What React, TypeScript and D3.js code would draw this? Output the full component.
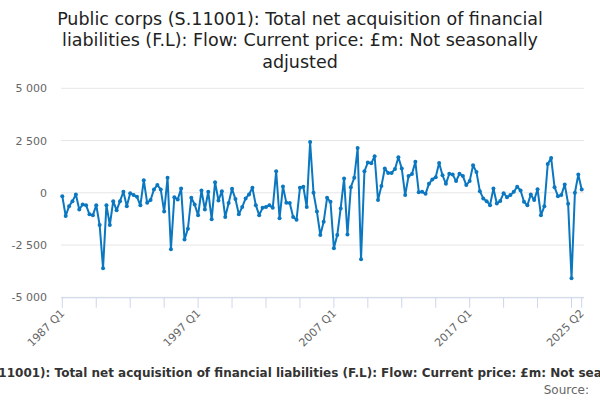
import { useRef, useEffect } from "react";
import * as d3 from "d3";

// quarterly series, 1987 Q1 .. 2025 Q2 (£m)
const startYear = 1987;
const values = [
  -160, -1110, -640, -400, -80, -800, -560, -590, -1030, -1080,
  -590, -1540, -3610, -590, -1540, -400, -840, -400, 50, -640,
  -20, -110, -190, -600, 600, -480, -350, 160, 370, 160,
  -900, 715, -2700, -210, -320, 200, -2240, -1720, -240, -560,
  -1080, 110, -800, 50, -1270, 510, -370, 80, -1160, -490,
  190, -300, -1030, -680, -270, -80, 240, -590, -1070, -720,
  -680, -600, -720, 1030, -1220, 300, -480, -490, -1160, -1290,
  240, 290, -680, 2430, 0, -900, -2020, -1380, -240, -430,
  -2650, -2020, -750, 680, -1990, 270, 720, 2140, -3180, 1030,
  1450, 1410, 1750, -350, 320, 1160, 950, 950, 1140, 1700,
  1160, -110, 800, 900, 1480, 30, 50, -50, 430, 640,
  750, 1430, 840, 430, 910, 870, 560, 910, 800, 370,
  560, 1320, 990, 80, -270, -400, -590, 210, -510, -390,
  -20, -210, -110, 50, 290, 110, -430, -600, -80, -350,
  170, -1080, -640, 1380, 1670, 270, -160, -110, 400, -520,
  -4090, 0, 870, 160,
];
const quarters = values.map(
  (_, i) => `${startYear + Math.floor(i / 4)} Q${(i % 4) + 1}`
);
const yTicks = [-5000, -2500, 0, 2500, 5000];
const labelledQuarters = ["1987 Q1", "1997 Q1", "2007 Q1", "2017 Q1", "2025 Q2"];

const titleLines = [
  "Public corps (S.11001): Total net acquisition of financial",
  "liabilities (F.L): Flow: Current price: £m: Not seasonally",
  "adjusted",
];
const axisTitle =
  "Public corps (S.11001): Total net acquisition of financial liabilities (F.L): Flow: Current price: £m: Not seasonally adjusted";

const W = 600;
const H = 400;
const FONT = "'DejaVu Sans', sans-serif";

export default function App() {
  const svgRef = useRef<SVGSVGElement | null>(null);

  useEffect(() => {
    const svg = d3.select(svgRef.current);
    svg.selectAll("*").remove();

    const x = d3
      .scaleLinear()
      .domain([0, values.length - 1])
      .range([62.3, 581.7]);
    const y = d3.scaleLinear().domain([-5000, 5000]).range([297.3, 88.3]);

    // title
    svg
      .append("g")
      .selectAll("text")
      .data(titleLines)
      .join("text")
      .attr("x", W / 2)
      .attr("y", (_, i) => 24.5 + i * 21.5)
      .attr("text-anchor", "middle")
      .attr("font-size", 17.5)
      .attr("fill", "#222222")
      .text((d) => d);

    // grid + y labels
    const yAxis = svg.append("g");
    yAxis
      .selectAll("line")
      .data(yTicks)
      .join("line")
      .attr("x1", 61)
      .attr("x2", 584)
      .attr("y1", (d) => y(d))
      .attr("y2", (d) => y(d))
      .attr("stroke", "#e6e6e6");
    yAxis
      .selectAll("text")
      .data(yTicks)
      .join("text")
      .attr("x", 47)
      .attr("y", (d) => y(d) + 4)
      .attr("text-anchor", "end")
      .attr("font-size", 11)
      .attr("fill", "#666666")
      .text((d) => d3.format(",")(d).replace(",", " ").replace("−", "-"));

    // x axis line and ticks
    const tickIdx = d3.range(0, values.length, 10).concat([values.length - 1]);
    const xAxis = svg.append("g");
    xAxis
      .append("line")
      .attr("x1", 61)
      .attr("x2", 584)
      .attr("y1", 297.8)
      .attr("y2", 297.8)
      .attr("stroke", "#ccd6eb");
    xAxis
      .selectAll("line.tick")
      .data(tickIdx)
      .join("line")
      .attr("class", "tick")
      .attr("x1", (d) => x(d))
      .attr("x2", (d) => x(d))
      .attr("y1", 297.8)
      .attr("y2", 307.8)
      .attr("stroke", "#ccd6eb");
    xAxis
      .selectAll("text")
      .data(labelledQuarters)
      .join("text")
      .attr("text-anchor", "end")
      .attr("font-size", 11)
      .attr("fill", "#666666")
      .attr("transform", (d) => {
        const px = x(quarters.indexOf(d)) + 3;
        return `translate(${px},${314}) rotate(-45)`;
      })
      .text((d) => d);

    // series
    const line = d3
      .line<number>()
      .x((_, i) => x(i))
      .y((d) => y(d));
    svg
      .append("path")
      .datum(values)
      .attr("d", line)
      .attr("fill", "none")
      .attr("stroke", "#0a77c0")
      .attr("stroke-width", 2)
      .attr("stroke-linejoin", "round");
    svg
      .append("g")
      .selectAll("circle")
      .data(values)
      .join("circle")
      .attr("cx", (_, i) => x(i))
      .attr("cy", (d) => y(d))
      .attr("r", 2)
      .attr("fill", "#0a77c0");

    // axis title and credits
    svg
      .append("text")
      .attr("x", 303)
      .attr("y", 377)
      .attr("text-anchor", "middle")
      .attr("font-size", 12)
      .attr("font-weight", "bold")
      .attr("fill", "#333333")
      .text(axisTitle);
    svg
      .append("text")
      .attr("x", 589)
      .attr("y", 394)
      .attr("text-anchor", "end")
      .attr("font-size", 12)
      .attr("fill", "#666666")
      .text("Source:");
  }, []);

  return (
    <div style={{ position: "absolute", left: 0, top: 0, width: W, height: H, background: "#fff" }}>
      <svg ref={svgRef} width={W} height={H} style={{ display: "block", fontFamily: FONT }} />
    </div>
  );
}
